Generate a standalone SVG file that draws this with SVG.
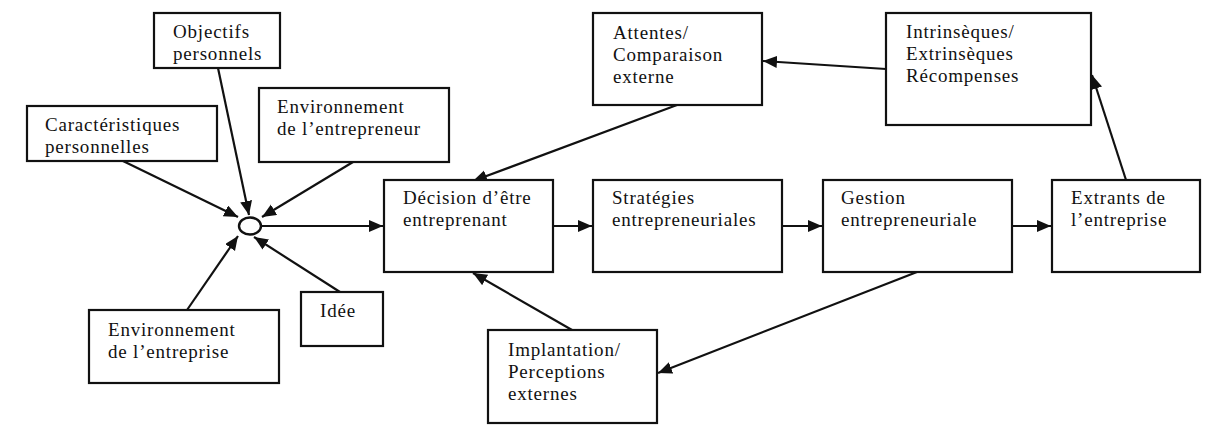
<svg xmlns="http://www.w3.org/2000/svg" width="1213" height="437" viewBox="0 0 1213 437">
<style>
.box{fill:#fff;stroke:#111;stroke-width:2.2}
.t{font-family:"Liberation Serif","Times New Roman",serif;font-size:19px;letter-spacing:0.8px;fill:#111}
.c{stroke:#111;stroke-width:2.2;fill:none;marker-end:url(#ah)}
</style>
<defs>
<marker id="ah" markerUnits="userSpaceOnUse" markerWidth="16" markerHeight="14" refX="14" refY="6" orient="auto">
<path d="M0,0 L14,6 L0,12 z" fill="#111"/>
</marker>
</defs>
<rect width="1213" height="437" fill="#fff"/>
<g id="connectors">
<line class="c" x1="123" y1="161" x2="238" y2="217"/>
<line class="c" x1="218" y1="68" x2="249" y2="215"/>
<line class="c" x1="353" y1="162" x2="262" y2="217"/>
<line class="c" x1="187" y1="310" x2="238" y2="236"/>
<line class="c" x1="340" y1="292" x2="254" y2="237"/>
<line class="c" x1="261" y1="226" x2="383" y2="226"/>
<line class="c" x1="553" y1="226" x2="592" y2="226"/>
<line class="c" x1="782" y1="226" x2="822" y2="226"/>
<line class="c" x1="1012" y1="226" x2="1051" y2="226"/>
<line class="c" x1="1126" y1="180" x2="1092" y2="75"/>
<line class="c" x1="886" y1="69" x2="763" y2="61"/>
<line class="c" x1="677" y1="105" x2="473" y2="181"/>
<line class="c" x1="917" y1="272" x2="658" y2="373"/>
<line class="c" x1="572" y1="330" x2="473" y2="273"/>
</g>
<g id="hub"><ellipse cx="250" cy="226" rx="11" ry="8.5" fill="#fff" stroke="#111" stroke-width="2.4"/></g>
<g id="objectifs"><rect class="box" x="154" y="13" width="126" height="55"/><text class="t" x="173" y="38">Objectifs</text><text class="t" x="173" y="60">personnels</text></g>
<g id="caracteristiques"><rect class="box" x="27" y="106" width="190" height="55"/><text class="t" x="45" y="131">Caractéristiques</text><text class="t" x="45" y="153">personnelles</text></g>
<g id="env-entrepreneur"><rect class="box" x="259" y="88" width="190" height="74"/><text class="t" x="277" y="113">Environnement</text><text class="t" x="277" y="135">de l’entrepreneur</text></g>
<g id="env-entreprise"><rect class="box" x="89" y="310" width="190" height="73"/><text class="t" x="108" y="336">Environnement</text><text class="t" x="108" y="358">de l’entreprise</text></g>
<g id="idee"><rect class="box" x="301" y="292" width="82" height="54"/><text class="t" x="320" y="317">Idée</text></g>
<g id="decision"><rect class="box" x="384" y="180" width="169" height="92"/><text class="t" x="403" y="204">Décision d’être</text><text class="t" x="403" y="226">entreprenant</text></g>
<g id="strategies"><rect class="box" x="593" y="180" width="189" height="92"/><text class="t" x="612" y="204">Stratégies</text><text class="t" x="612" y="226">entrepreneuriales</text></g>
<g id="gestion"><rect class="box" x="823" y="180" width="189" height="92"/><text class="t" x="841" y="204">Gestion</text><text class="t" x="841" y="226">entrepreneuriale</text></g>
<g id="extrants"><rect class="box" x="1052" y="180" width="148" height="92"/><text class="t" x="1071" y="204">Extrants de</text><text class="t" x="1071" y="226">l’entreprise</text></g>
<g id="attentes"><rect class="box" x="593" y="13" width="169" height="92"/><text class="t" x="613" y="39">Attentes/</text><text class="t" x="613" y="61">Comparaison</text><text class="t" x="613" y="83">externe</text></g>
<g id="intrinseques"><rect class="box" x="886" y="13" width="205" height="112"/><text class="t" x="906" y="38">Intrinsèques/</text><text class="t" x="906" y="60">Extrinsèques</text><text class="t" x="906" y="82">Récompenses</text></g>
<g id="implantation"><rect class="box" x="488" y="330" width="169" height="93"/><text class="t" x="508" y="356">Implantation/</text><text class="t" x="508" y="378">Perceptions</text><text class="t" x="508" y="400">externes</text></g>
</svg>
